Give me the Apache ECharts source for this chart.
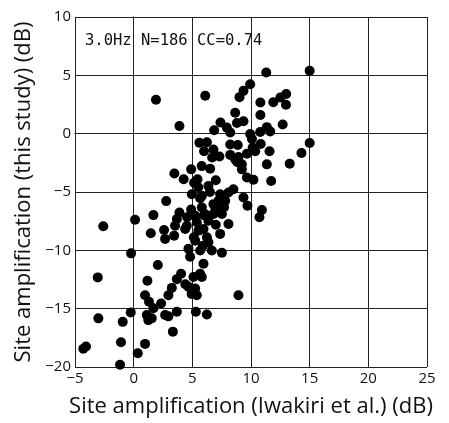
<!DOCTYPE html>
<html>
<head>
<meta charset="utf-8">
<script src="https://cdn.jsdelivr.net/npm/echarts@6/dist/echarts.min.js"></script>
<style>
  html, body { margin: 0; padding: 0; background: #fff; }
  #main { width: 449px; height: 423px; }
</style>
</head>
<body>
<div id="main"></div>
<script>
// site amplification, Iwakiri et al. (x) vs this study (y), dB
var xVals = [
  11.3, 15.0, 1.9, 6.1, 9.93, 9.36, 9.02, 10.8, 11.9, 12.5, 13.0, 12.98, 8.65, 10.8, 12.7, 3.9,
  7.4, 6.86, 7.94, 8.23, 8.8, 9.36, 9.93, 10.78, 11.35, 11.64, 15.0, 14.3, 11.58, 10.83, 10.08, 10.15,
  9.65, 10.36, 8.93, 5.6, 6.24, 6.0, 6.8, 8.23, 8.87, 8.23, 7.31, 6.69, 8.65, 9.22, 8.82,
  11.35, 13.3, 11.72, 9.65, 10.21, 9.22, 9.36, 9.7, 10.93, 10.72, 8.5, 8.08, 7.37, 7.8, 7.52, 8.08,
  7.37, 6.37, 5.81, 5.52, 6.24, 5.67, 6.66, 7.52, 6.95, 6.8, 5.8, 4.9, 6.52, 3.47, 4.26, 5.15, 5.44,
  6.37, 4.96, 5.67, 2.77, 0.12, -2.59, 1.68, 2.59, 1.46, 3.45, 3.53, 3.9, 3.68, 4.56, 5.24, 5.38,
  5.81, 6.8, 7.23, 5.95, 5.24, 4.67, 4.53, 2.68, 5.13, 6.37, 4.39,
  -0.22, 2.06, -3.06, 1.17, 0.97, 1.31, 2.34, 2.96, 3.25, 3.68, 4.04, 4.81, 5.1, 4.67, 5.24, 5.38,
  5.81, 5.95, -0.25, -3.01, -0.93, 1.12, 1.54, 1.25, 2.68, 2.96, 3.68, 3.34, 5.3, -4.06, -4.29, -1.08,
  0.97, 0.35, -1.16, 1.68, 5.66, 6.24, 8.93, 4.94,
  5.5, 6.0, 6.5, 7.0, 4.9, 5.9, 7.7, 4.4, 6.1, 7.0
];
var yVals = [
  5.25, 5.4, 2.9, 3.25, 4.24, 3.67, 3.13, 2.67, 2.7, 3.1, 3.4, 2.48, 1.8, 1.6, 0.78, 0.65,
  0.95, 0.3, 0.52, 0.1, 0.92, 1.06, -0.03, 0.14, 0.56, 0.18, -0.8, -1.65, -1.5, -0.89, -0.46, -1.18,
  -1.72, -1.5, -2.0, -0.78, -0.73, -1.5, -1.35, -0.93, -0.97, -1.82, -1.95, -2.04, -2.2, -2.63, -2.42,
  -2.63, -2.57, -4.05, -3.76, -3.95, -3.06, -5.47, -6.18, -6.55, -7.17, -4.76, -5.04, -5.19, -5.76, -6.89, -7.74,
  -8.59, -7.46, -5.33, -8.31, -8.88, -10.02, -10.02, -10.2, -6.32, -6.89, -2.78, -3.06, -3.0, -3.42, -3.91, -4.2, -3.91,
  -4.48, -5.19, -5.53, -5.78, -7.38, -7.94, -6.98, -8.25, -8.53, -8.74, -7.89, -6.75, -7.32, -7.17, -7.04, -7.6,
  -6.32, -6.04, -5.76, -8.17, -9.17, -9.87, -7.89, -9.02, -8.88, -9.3, -8.17,
  -10.26, -11.26, -12.32, -12.6, -13.85, -14.41, -14.56, -13.85, -13.22, -12.47, -12.0, -10.55, -12.28, -13.13, -13.28, -13.85,
  -12.28, -11.15, -15.32, -15.83, -16.13, -15.55, -15.83, -15.98, -15.55, -15.66, -15.26, -16.97, -15.26, -18.25, -18.43, -17.88,
  -18.02, -18.82, -19.81, -14.97, -12.0, -15.5, -13.85, -13.75,
  -4.6, -7.0, -5.0, -7.8, -6.5, -9.6, -6.3, -12.9, -6.9, -4.0
];
var xTicks = [-5, 0, 5, 10, 15, 20, 25];
var yTicks = [-20, -15, -10, -5, 0, 5, 10];
var note = '3.0Hz N=186 CC=0.74';

var pts = [];
for (var i = 0; i < xVals.length; i++) {
  pts.push([xVals[i], yVals[i]]);
}

function minus(v) { return String(v).replace('-', '\u2212'); }

var chart = echarts.init(document.getElementById('main'));
var lineStyle = { color: '#222', width: 1 };
var option = {
  animation: false,
  backgroundColor: '#fff',
  grid: { left: 75, right: 22, top: 17, bottom: 54 },
  title: {
    text: note,
    left: 80,
    top: 28,
    textStyle: { fontFamily: 'DejaVu Sans Mono', fontSize: 15.5, fontWeight: 'normal', color: '#111' }
  },
  xAxis: [{
    type: 'value',
    min: xTicks[0], max: xTicks[xTicks.length - 1], interval: 5,
    name: 'Site amplification (Iwakiri et al.) (dB)',
    nameLocation: 'middle', nameGap: 29,
    nameTextStyle: { fontFamily: 'Open Sans', fontSize: 22, color: '#111' },
    axisLine: { lineStyle: lineStyle },
    axisTick: { show: true, length: 4, lineStyle: lineStyle },
    axisLabel: { formatter: minus, fontFamily: 'Open Sans', fontSize: 15, color: '#111', margin: 4 },
    splitLine: { show: true, lineStyle: lineStyle }
  }, {
    type: 'value', position: 'top',
    min: xTicks[0], max: xTicks[xTicks.length - 1], interval: 5,
    axisLine: { show: true, lineStyle: lineStyle },
    axisTick: { show: true, length: 3, lineStyle: lineStyle },
    axisLabel: { show: false },
    splitLine: { show: false }
  }],
  yAxis: [{
    type: 'value',
    min: yTicks[0], max: yTicks[yTicks.length - 1], interval: 5,
    name: 'Site amplification (this study) (dB)',
    nameLocation: 'middle', nameGap: 34,
    nameTextStyle: { fontFamily: 'Open Sans', fontSize: 22, color: '#111' },
    axisLine: { lineStyle: lineStyle },
    axisTick: { show: true, length: 5, lineStyle: lineStyle },
    axisLabel: { formatter: minus, fontFamily: 'Open Sans', fontSize: 15, color: '#111', margin: 4 },
    splitLine: { show: true, lineStyle: lineStyle }
  }, {
    type: 'value', position: 'right',
    min: yTicks[0], max: yTicks[yTicks.length - 1], interval: 5,
    axisLine: { show: true, lineStyle: lineStyle },
    axisTick: { show: true, length: 3, lineStyle: lineStyle },
    axisLabel: { show: false },
    splitLine: { show: false }
  }],
  series: [{
    type: 'scatter',
    symbol: 'circle',
    symbolSize: 10,
    itemStyle: { color: '#000', opacity: 1 },
    data: pts
  }]
};
chart.setOption(option);
</script>
</body>
</html>
